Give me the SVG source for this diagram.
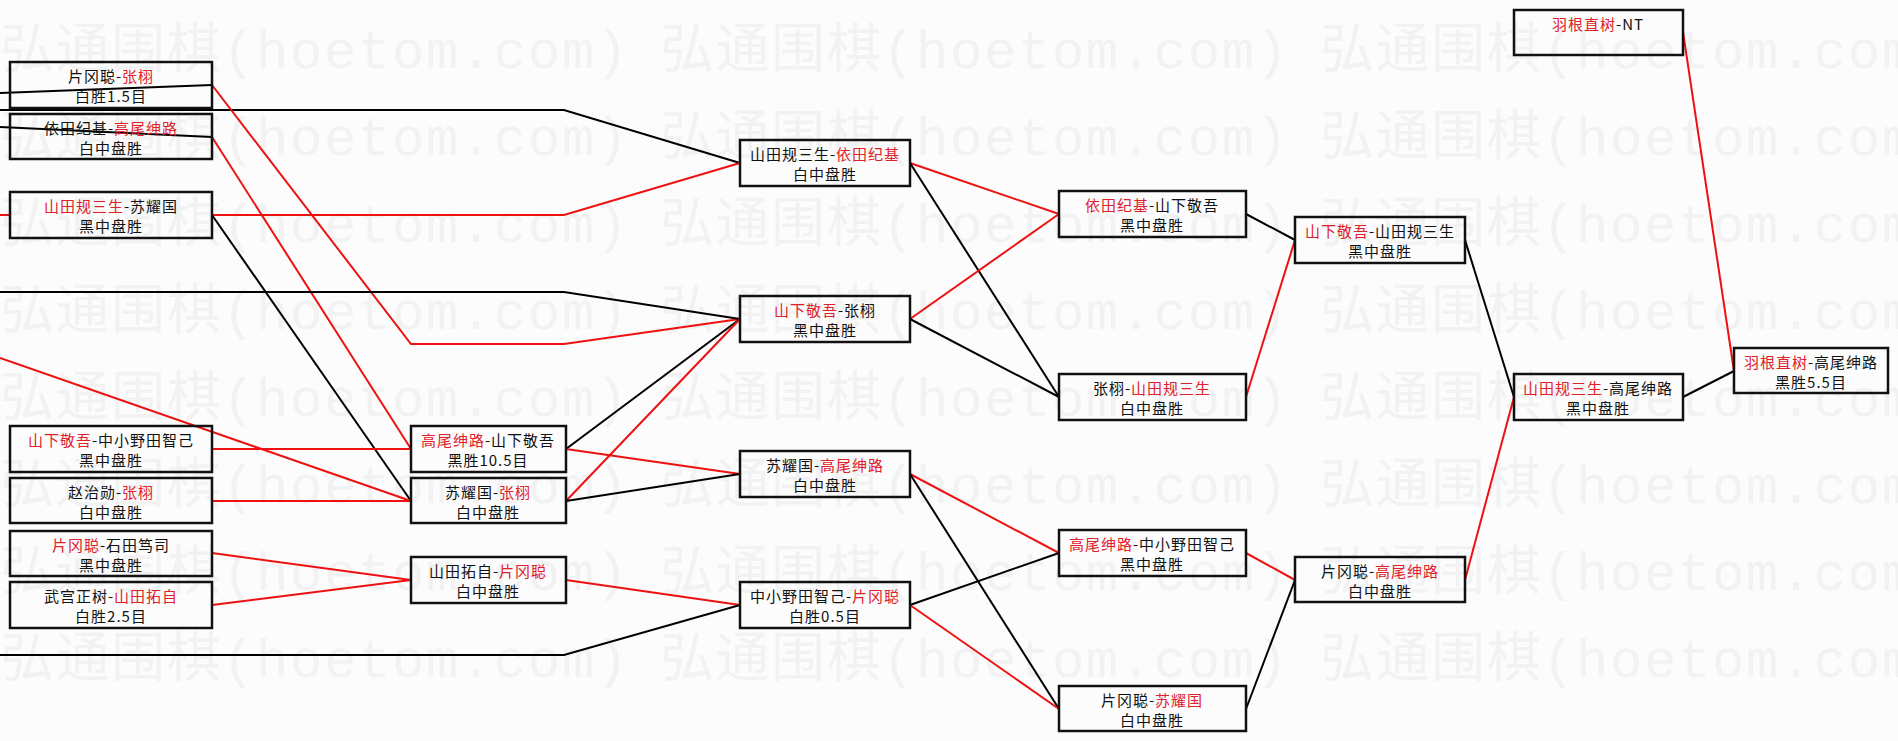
<svg xmlns="http://www.w3.org/2000/svg" width="1898" height="741" viewBox="0 0 1898 741">
<style>
.bg{fill:#fcfcfc}
.wm{font-family:"Liberation Mono","Noto Sans CJK SC",monospace;font-size:54px;fill:#f2f2f2}
.box{fill:none;stroke:#111;stroke-width:2.5}
.t{font-family:"Noto Sans CJK SC",sans-serif;font-size:15px;letter-spacing:1px;fill:#111;text-anchor:middle}
.r{fill:#e0202a}
.k{fill:none;stroke:#000;stroke-width:2}
.rd{fill:none;stroke:#ee1111;stroke-width:2}
</style>
<rect class="bg" x="0" y="0" width="1898" height="741"/>
<g id="watermark">
<text class="wm" x="0" y="68" textLength="628">弘通围棋(hoetom.com)</text>
<text class="wm" x="660" y="68" textLength="628">弘通围棋(hoetom.com)</text>
<text class="wm" x="1320" y="68" textLength="628">弘通围棋(hoetom.com)</text>
<text class="wm" x="0" y="155" textLength="628">弘通围棋(hoetom.com)</text>
<text class="wm" x="660" y="155" textLength="628">弘通围棋(hoetom.com)</text>
<text class="wm" x="1320" y="155" textLength="628">弘通围棋(hoetom.com)</text>
<text class="wm" x="0" y="242" textLength="628">弘通围棋(hoetom.com)</text>
<text class="wm" x="660" y="242" textLength="628">弘通围棋(hoetom.com)</text>
<text class="wm" x="1320" y="242" textLength="628">弘通围棋(hoetom.com)</text>
<text class="wm" x="0" y="329" textLength="628">弘通围棋(hoetom.com)</text>
<text class="wm" x="660" y="329" textLength="628">弘通围棋(hoetom.com)</text>
<text class="wm" x="1320" y="329" textLength="628">弘通围棋(hoetom.com)</text>
<text class="wm" x="0" y="416" textLength="628">弘通围棋(hoetom.com)</text>
<text class="wm" x="660" y="416" textLength="628">弘通围棋(hoetom.com)</text>
<text class="wm" x="1320" y="416" textLength="628">弘通围棋(hoetom.com)</text>
<text class="wm" x="0" y="503" textLength="628">弘通围棋(hoetom.com)</text>
<text class="wm" x="660" y="503" textLength="628">弘通围棋(hoetom.com)</text>
<text class="wm" x="1320" y="503" textLength="628">弘通围棋(hoetom.com)</text>
<text class="wm" x="0" y="590" textLength="628">弘通围棋(hoetom.com)</text>
<text class="wm" x="660" y="590" textLength="628">弘通围棋(hoetom.com)</text>
<text class="wm" x="1320" y="590" textLength="628">弘通围棋(hoetom.com)</text>
<text class="wm" x="0" y="677" textLength="628">弘通围棋(hoetom.com)</text>
<text class="wm" x="660" y="677" textLength="628">弘通围棋(hoetom.com)</text>
<text class="wm" x="1320" y="677" textLength="628">弘通围棋(hoetom.com)</text>
</g>
<g id="connectors">
<polyline class="k" points="0,93 212,85"/>
<polyline class="k" points="0,127 212,137"/>
<polyline class="k" points="0,110 564,110 740,163"/>
<polyline class="rd" points="0,215 10,215"/>
<polyline class="rd" points="212,215 564,215 740,163"/>
<polyline class="rd" points="212,85 411,344 564,344 740,319"/>
<polyline class="rd" points="212,137 411,449"/>
<polyline class="k" points="212,215 411,501"/>
<polyline class="k" points="0,292 564,292 740,319"/>
<polyline class="rd" points="0,358 411,501"/>
<polyline class="rd" points="212,449 411,449"/>
<polyline class="rd" points="212,501 411,501"/>
<polyline class="rd" points="212,553 411,580"/>
<polyline class="rd" points="212,605 411,580"/>
<polyline class="k" points="566,449 740,319"/>
<polyline class="rd" points="566,449 740,474"/>
<polyline class="rd" points="566,501 740,319"/>
<polyline class="k" points="566,501 740,474"/>
<polyline class="rd" points="566,580 740,605"/>
<polyline class="k" points="0,655 564,655 740,605"/>
<polyline class="rd" points="910,163 1059,214"/>
<polyline class="k" points="910,163 1059,397"/>
<polyline class="rd" points="910,319 1059,214"/>
<polyline class="k" points="910,319 1059,397"/>
<polyline class="rd" points="910,474 1059,553"/>
<polyline class="k" points="910,474 1059,709"/>
<polyline class="k" points="910,605 1059,553"/>
<polyline class="rd" points="910,605 1059,709"/>
<polyline class="k" points="1246,214 1295,240"/>
<polyline class="rd" points="1246,397 1295,240"/>
<polyline class="rd" points="1246,553 1295,580"/>
<polyline class="k" points="1246,709 1295,580"/>
<polyline class="k" points="1465,240 1514,397"/>
<polyline class="rd" points="1465,580 1514,397"/>
<polyline class="k" points="1683,397 1734,371"/>
<polyline class="rd" points="1683,32 1734,371"/>
</g>
<g id="b1"><rect class="box" x="10" y="62" width="202" height="46"/><text class="t" x="111" y="82">片冈聪-<tspan class="r">张栩</tspan></text><text class="t" x="111" y="102">白胜1.5目</text></g>
<g id="b2"><rect class="box" x="10" y="114" width="202" height="45"/><text class="t" x="111" y="134">依田纪基-<tspan class="r">高尾绅路</tspan></text><text class="t" x="111" y="154">白中盘胜</text></g>
<g id="b3"><rect class="box" x="10" y="192" width="202" height="46"/><text class="t" x="111" y="212"><tspan class="r">山田规三生</tspan>-苏耀国</text><text class="t" x="111" y="232">黑中盘胜</text></g>
<g id="b4"><rect class="box" x="10" y="426" width="202" height="46"/><text class="t" x="111" y="446"><tspan class="r">山下敬吾</tspan>-中小野田智己</text><text class="t" x="111" y="466">黑中盘胜</text></g>
<g id="b5"><rect class="box" x="10" y="478" width="202" height="45"/><text class="t" x="111" y="498">赵治勋-<tspan class="r">张栩</tspan></text><text class="t" x="111" y="518">白中盘胜</text></g>
<g id="b6"><rect class="box" x="10" y="531" width="202" height="45"/><text class="t" x="111" y="551"><tspan class="r">片冈聪</tspan>-石田笃司</text><text class="t" x="111" y="571">黑中盘胜</text></g>
<g id="b7"><rect class="box" x="10" y="582" width="202" height="46"/><text class="t" x="111" y="602">武宫正树-<tspan class="r">山田拓自</tspan></text><text class="t" x="111" y="622">白胜2.5目</text></g>
<g id="c1"><rect class="box" x="411" y="426" width="155" height="46"/><text class="t" x="488" y="446"><tspan class="r">高尾绅路</tspan>-山下敬吾</text><text class="t" x="488" y="466">黑胜10.5目</text></g>
<g id="c2"><rect class="box" x="411" y="478" width="155" height="45"/><text class="t" x="488" y="498">苏耀国-<tspan class="r">张栩</tspan></text><text class="t" x="488" y="518">白中盘胜</text></g>
<g id="c3"><rect class="box" x="411" y="557" width="155" height="46"/><text class="t" x="488" y="577">山田拓自-<tspan class="r">片冈聪</tspan></text><text class="t" x="488" y="597">白中盘胜</text></g>
<g id="d1"><rect class="box" x="740" y="140" width="170" height="46"/><text class="t" x="825" y="160">山田规三生-<tspan class="r">依田纪基</tspan></text><text class="t" x="825" y="180">白中盘胜</text></g>
<g id="d2"><rect class="box" x="740" y="296" width="170" height="46"/><text class="t" x="825" y="316"><tspan class="r">山下敬吾</tspan>-张栩</text><text class="t" x="825" y="336">黑中盘胜</text></g>
<g id="d3"><rect class="box" x="740" y="451" width="170" height="46"/><text class="t" x="825" y="471">苏耀国-<tspan class="r">高尾绅路</tspan></text><text class="t" x="825" y="491">白中盘胜</text></g>
<g id="d4"><rect class="box" x="740" y="582" width="170" height="46"/><text class="t" x="825" y="602">中小野田智己-<tspan class="r">片冈聪</tspan></text><text class="t" x="825" y="622">白胜0.5目</text></g>
<g id="e1"><rect class="box" x="1059" y="191" width="187" height="46"/><text class="t" x="1152" y="211"><tspan class="r">依田纪基</tspan>-山下敬吾</text><text class="t" x="1152" y="231">黑中盘胜</text></g>
<g id="e2"><rect class="box" x="1059" y="374" width="187" height="46"/><text class="t" x="1152" y="394">张栩-<tspan class="r">山田规三生</tspan></text><text class="t" x="1152" y="414">白中盘胜</text></g>
<g id="e3"><rect class="box" x="1059" y="530" width="187" height="46"/><text class="t" x="1152" y="550"><tspan class="r">高尾绅路</tspan>-中小野田智己</text><text class="t" x="1152" y="570">黑中盘胜</text></g>
<g id="e4"><rect class="box" x="1059" y="686" width="187" height="45"/><text class="t" x="1152" y="706">片冈聪-<tspan class="r">苏耀国</tspan></text><text class="t" x="1152" y="726">白中盘胜</text></g>
<g id="f1"><rect class="box" x="1295" y="217" width="170" height="46"/><text class="t" x="1380" y="237"><tspan class="r">山下敬吾</tspan>-山田规三生</text><text class="t" x="1380" y="257">黑中盘胜</text></g>
<g id="f2"><rect class="box" x="1295" y="557" width="170" height="45"/><text class="t" x="1380" y="577">片冈聪-<tspan class="r">高尾绅路</tspan></text><text class="t" x="1380" y="597">白中盘胜</text></g>
<g id="g1"><rect class="box" x="1514" y="374" width="169" height="46"/><text class="t" x="1598" y="394"><tspan class="r">山田规三生</tspan>-高尾绅路</text><text class="t" x="1598" y="414">黑中盘胜</text></g>
<g id="h0"><rect class="box" x="1514" y="10" width="169" height="45"/><text class="t" x="1598" y="30"><tspan class="r">羽根直树</tspan>-NT</text></g>
<g id="h1"><rect class="box" x="1734" y="348" width="154" height="45"/><text class="t" x="1811" y="368"><tspan class="r">羽根直树</tspan>-高尾绅路</text><text class="t" x="1811" y="388">黑胜5.5目</text></g>
</svg>
